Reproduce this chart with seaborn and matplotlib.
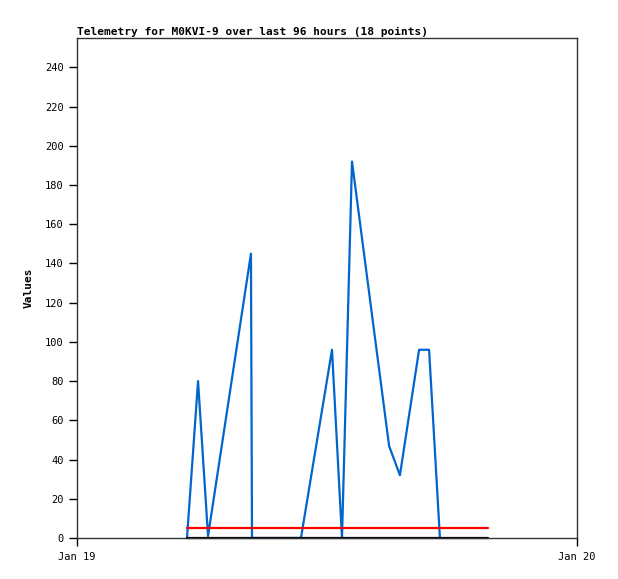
import matplotlib
matplotlib.use("Agg")
import matplotlib.pyplot as plt
import matplotlib.dates as mdates
import seaborn as sns
import pandas as pd

sns.set_style("white")
plt.rcParams['font.family'] = ['DejaVu Sans Mono']
plt.rcParams['text.color'] = 'black'
plt.rcParams['axes.labelcolor'] = 'black'

day = pd.Timestamp("2024-01-19")

# telemetry samples: hours after midnight, value
hours = [5.28, 5.81, 6.29, 8.35, 8.40, 10.75, 12.24, 12.72, 13.20,
         14.98, 15.50, 16.42, 16.90, 17.42]
values = [0, 80, 1, 145, 0, 0, 96, 0, 192, 47, 32, 96, 96, 0]

# limit and baseline span
span_hours = [5.28, 19.73]
limit_values = [5, 5]
base_values = [0, 0]

tele = pd.DataFrame({"time": day + pd.to_timedelta(hours, unit="h"), "value": values})
limit = pd.DataFrame({"time": day + pd.to_timedelta(span_hours, unit="h"), "value": limit_values})
base = pd.DataFrame({"time": day + pd.to_timedelta(span_hours, unit="h"), "value": base_values})

fig = plt.figure(figsize=(6.18, 5.79), dpi=100)
ax = fig.add_axes([77/618, 41/579, 500/618, 500/579])

# draw order: telemetry, then limit, then baseline on top
sns.lineplot(data=tele, x="time", y="value", color="#0066cc", lw=1.6, ax=ax)
sns.lineplot(data=limit, x="time", y="value", color="#ff0000", lw=1.6, ax=ax)
sns.lineplot(data=base, x="time", y="value", color="black", lw=1.6, ax=ax, clip_on=False)

ax.set_xlim(day, day + pd.Timedelta(hours=24))
ax.set_ylim(0, 255)
ax.set_yticks(range(0, 241, 20))
ax.xaxis.set_major_locator(mdates.DayLocator())
ax.xaxis.set_major_formatter(mdates.DateFormatter("%b %d"))
ax.tick_params(axis="both", direction="out", length=6, width=1, colors="black",
               labelsize=7.5, bottom=True, left=True)
ax.tick_params(axis="x", pad=4)

for s in ax.spines.values():
    s.set_color("#333333")
    s.set_linewidth(1)

ax.set_xlabel("")
ax.set_ylabel("Values", fontsize=8, fontweight="bold", labelpad=8)
ax.set_title("Telemetry for M0KVI-9 over last 96 hours (18 points)",
             loc="left", fontsize=8, fontweight="bold", pad=2, color="black")

fig.savefig("out.png", dpi=100)
